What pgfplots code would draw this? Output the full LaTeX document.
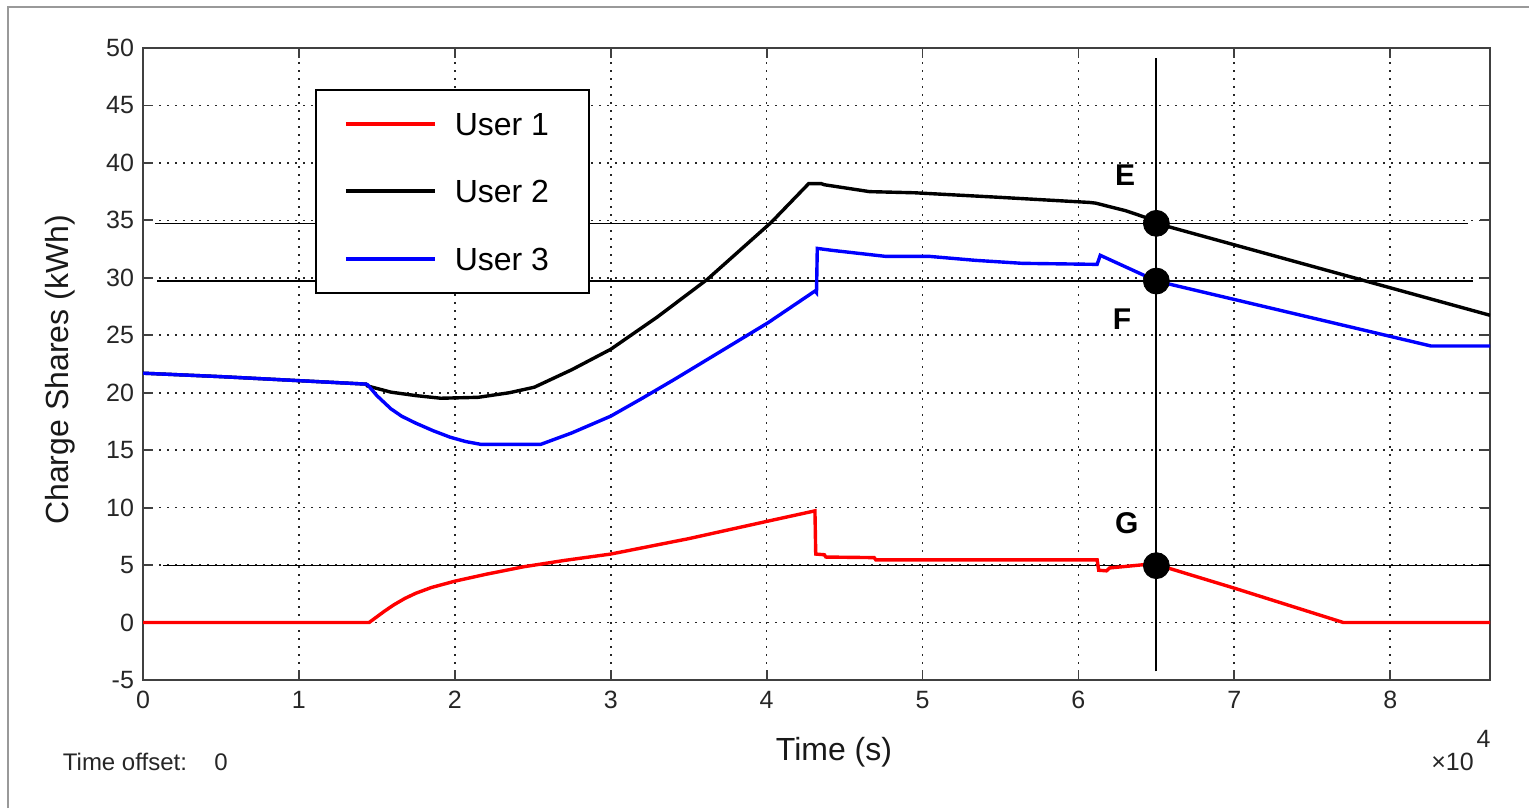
\documentclass[border=0pt]{standalone}
\usepackage{pgfplots}
\pgfplotsset{compat=1.18}
\usepackage{fontspec}
\setmainfont{Liberation Sans}

\begin{document}
\begin{tikzpicture}
% picture is 1529x808 px at 0.5pt per px
\path[use as bounding box] (0pt,0pt) rectangle (764.5pt,404pt);
\draw[black!40, line width=0.8pt] (4pt,0pt) -- (4pt,400.5pt) -- (764.5pt,400.5pt);

\begin{axis}[
  at={(71.5pt,64pt)}, anchor=south west,
  scale only axis, width=673.5pt, height=316pt,
  xmin=0, xmax=8.64, ymin=-5, ymax=50,
  xtick={0,1,...,8}, ytick={-5,0,...,50},
  scaled ticks=false,
  tick align=inside, major tick length=5pt,
  tick style={black!75, line width=0.9pt},
  axis line style={black!75, line width=1pt},
  grid=major,
  major grid style={black!85, line width=0.85pt, dash pattern=on 0.85pt off 3.15pt},
  /pgf/number format/assume math mode=true,
  ticklabel style={font=\fontsize{12.5}{14}\selectfont, text=black!85},
  xticklabel style={yshift=-2pt},
  yticklabel style={xshift=-1pt},
  legend style={at={(0.1277,0.935)}, anchor=north west, draw=black, line width=0.8pt,
    inner xsep=14pt, inner ysep=11.25pt, row sep=22.25pt, column sep=9pt,
    font=\fontsize{16}{19}\selectfont,
    nodes={inner sep=0pt, text height=11.5pt, text depth=0pt}},
  legend cell align=left,
  legend image code/.code={\draw[#1, line width=2pt] (0pt,0pt) -- (44.5pt,0pt);},
]
% reference levels
\addplot[black, line width=0.75pt, forget plot] coordinates {(0.08,34.74) (8.50,34.74)};
\addplot[black, line width=0.75pt, forget plot] coordinates {(0.09,29.72) (8.53,29.72)};
\addplot[black, line width=0.75pt, forget plot] coordinates {(0.13,4.95) (8.64,4.95)};

% User 1
\addplot[red, line width=1.7pt] coordinates {
 (0,0) (1.45,0) (1.5,0.5) (1.55,1.0) (1.61,1.55) (1.68,2.1) (1.75,2.55) (1.85,3.05)
 (2.0,3.6) (2.2,4.2) (2.44,4.85) (2.7,5.4) (3.0,5.96) (3.5,7.3) (4.0,8.8) (4.31,9.72)
 (4.315,5.96) (4.37,5.9) (4.38,5.7) (4.69,5.65) (4.70,5.46) (6.12,5.46) (6.13,4.55)
 (6.18,4.5) (6.2,4.75) (6.43,5.05) (6.5,5.05) (6.55,4.85) (7.01,2.95) (7.70,0) (8.64,0)
};
\addlegendentry{User 1\hspace{6pt}\null}

% User 2
\addplot[black, line width=1.7pt] coordinates {
 (0,21.7) (0.5,21.4) (1.0,21.05) (1.43,20.75) (1.44,20.59) (1.59,20.05) (1.75,19.75)
 (1.91,19.52) (2.15,19.6) (2.35,20.0) (2.51,20.48) (2.75,22.0) (3.0,23.78) (3.3,26.6)
 (3.62,29.87) (4.03,34.83) (4.27,38.2) (4.35,38.2) (4.37,38.1) (4.66,37.5) (4.95,37.4)
 (5.5,37.0) (6.07,36.56) (6.11,36.5) (6.3,35.85) (6.43,35.26) (6.5,34.74) (8.64,26.74)
};
\addlegendentry{User 2\hspace{6pt}\null}

% User 3
\addplot[blue, line width=1.7pt] coordinates {
 (0,21.7) (0.5,21.4) (1.0,21.05) (1.43,20.75) (1.44,20.7) (1.5,19.75) (1.59,18.6)
 (1.66,17.95) (1.75,17.35) (1.86,16.7) (1.97,16.13) (2.07,15.75) (2.17,15.5) (2.55,15.5)
 (2.75,16.5) (3.0,17.96) (3.2,19.5) (3.41,21.17) (3.7,23.55) (4.01,26.1) (4.31,28.85)
 (4.32,28.7) (4.325,32.56) (4.42,32.39) (4.76,31.87) (5.04,31.87) (5.34,31.52)
 (5.64,31.26) (6.12,31.17) (6.14,31.96) (6.43,30.16) (6.5,29.72) (8.26,24.07) (8.64,24.07)
};
\addlegendentry{User 3\hspace{6pt}\null}

% cursor and points
\addplot[black, line width=0.9pt, forget plot] coordinates {(6.5,-4.25) (6.5,49.1)};
\addplot[only marks, mark=*, mark size=6.5pt, black, forget plot] coordinates {
 (6.5,34.74) (6.5,29.72) (6.5,4.95)};

\node[font=\fontsize{15}{17}\selectfont\bfseries] at (axis cs:6.30,38.9) {E};
\node[font=\fontsize{15}{17}\selectfont\bfseries] at (axis cs:6.28,26.4) {F};
\node[font=\fontsize{15}{17}\selectfont\bfseries] at (axis cs:6.31,8.65) {G};
\end{axis}

\node[font=\fontsize{16}{19}\selectfont, text=black!90] at (417pt,28pt) {Time (s)};
\node[font=\fontsize{16}{19}\selectfont, text=black!90, rotate=90] at (30pt,219pt) {Charge Shares (kWh)};
\node[font=\fontsize{12}{14}\selectfont, text=black!85, anchor=base west, inner sep=0pt] at (31.25pt,19pt) {Time offset:};
\node[font=\fontsize{12}{14}\selectfont, text=black!85, anchor=base west, inner sep=0pt] at (107pt,19pt) {0};
\node[font=\fontsize{12.5}{14}\selectfont, text=black!85] at (726.25pt,23pt) {×10};
\node[font=\fontsize{12.5}{14}\selectfont, text=black!85] at (741.75pt,34.5pt) {4};
\end{tikzpicture}
\end{document}
